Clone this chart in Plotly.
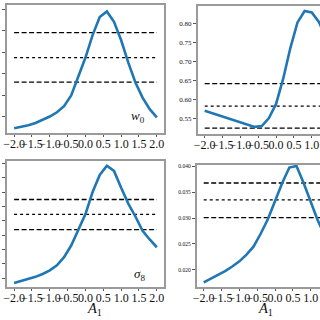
import plotly.graph_objects as go

# ---- data ----
A1 = [-2.0, -1.8, -1.6, -1.4, -1.2, -1.0, -0.8, -0.6, -0.4, -0.2, 0.0,
      0.2, 0.4, 0.6, 0.8, 1.0, 1.2, 1.4, 1.6, 1.8, 2.0]

w0_err = [0.074, 0.077, 0.081, 0.086, 0.093, 0.101, 0.111, 0.125, 0.150, 0.195, 0.238,
          0.290, 0.332, 0.345, 0.321, 0.278, 0.226, 0.180, 0.145, 0.118, 0.099]
w0_refs = [0.296, 0.2376, 0.181]   # dashed, dotted, dashed

tr_err = [0.571, 0.565, 0.559, 0.552, 0.545, 0.539, 0.533, 0.529, 0.531, 0.552, 0.589,
          0.655, 0.735, 0.802, 0.832, 0.828, 0.803, 0.765, 0.725, 0.692, 0.665]
tr_refs = [0.642, 0.5835, 0.526]

s8_err = [0.0167, 0.0180, 0.0194, 0.0210, 0.0230, 0.0255, 0.0290, 0.0347, 0.0428, 0.0532, 0.0647,
          0.0800, 0.0919, 0.0983, 0.0947, 0.0830, 0.0720, 0.0630, 0.0530, 0.0470, 0.0416]
s8_refs = [0.0748, 0.0645, 0.0539]

br_err = [0.0175, 0.0182, 0.0189, 0.0197, 0.0206, 0.0216, 0.0229, 0.0245, 0.0270, 0.0298, 0.0333,
          0.0368, 0.0398, 0.0401, 0.0368, 0.0332, 0.0295, 0.0265, 0.0240, 0.0220, 0.0205]
br_refs = [0.0368, 0.03351, 0.0301]

x_ticks = [-2.0, -1.5, -1.0, -0.5, 0.0, 0.5, 1.0, 1.5, 2.0]
tl_yticks = [0.10, 0.15, 0.20, 0.25, 0.30, 0.35]
tr_yticks = [0.55, 0.60, 0.65, 0.70, 0.75, 0.80]
bl_yticks = [0.02, 0.03, 0.04, 0.05, 0.06, 0.07, 0.08, 0.09, 0.10]
br_yticks = [0.020, 0.025, 0.030, 0.035, 0.040]

W = H = 320
BLUE = "#1f77b4"
FRAME = "#9a9a9a"
FONT = "Liberation Serif"

fig = go.Figure()

panels = [
    ("x", "y", w0_err, w0_refs),
    ("x2", "y2", tr_err, tr_refs),
    ("x3", "y3", s8_err, s8_refs),
    ("x4", "y4", br_err, br_refs),
]
for xa, ya, vals, refs in panels:
    for i, r in enumerate(refs):
        fig.add_trace(go.Scatter(
            x=[A1[0], A1[-1]], y=[r, r], mode="lines",
            line=dict(color="black", width=1.3, dash="dot" if i == 1 else "5px,2.5px"),
            xaxis=xa, yaxis=ya, showlegend=False, hoverinfo="skip"))
    fig.add_trace(go.Scatter(
        x=A1, y=vals, mode="lines", line=dict(color=BLUE, width=2.6),
        xaxis=xa, yaxis=ya, showlegend=False))


def px_x(p):
    return p / W


def px_y(p):
    return 1 - p / H


common_x = dict(tickmode="array", tickvals=x_ticks, tickformat=".1f", tickangle=0,
                ticks="outside", ticklen=2, tickcolor="#555", showline=True,
                linecolor=FRAME, linewidth=1.5, showgrid=False, zeroline=False,
                ticklabelstandoff=-3,
                tickfont=dict(family=FONT, size=12, color="#111"))
common_y = dict(ticks="outside", ticklen=3, tickcolor="#555", showline=True,
                linecolor=FRAME, linewidth=1.5, showgrid=False, zeroline=False,
                tickangle=0, tickfont=dict(family=FONT, size=7, color="#111"))

fig.update_layout(
    width=W, height=H, margin=dict(l=0, r=0, t=0, b=0),
    paper_bgcolor="white", plot_bgcolor="white", showlegend=False,
    xaxis=dict(domain=[px_x(3), px_x(162)], range=[-2.2, 2.2], mirror=True,
               anchor="y", **common_x),
    yaxis=dict(domain=[px_y(132), px_y(3)], range=[0.0624, 0.360], mirror=True,
               tickvals=tl_yticks, showticklabels=False, anchor="x", **common_y),
    xaxis2=dict(domain=[px_x(196), 1.0], range=[-2.2, 1.231], mirror=True,
                anchor="y2", **common_x),
    yaxis2=dict(domain=[px_y(133), px_y(4)], range=[0.510, 0.845],
                tickvals=tr_yticks, tickformat=".2f", anchor="x2", **common_y),
    xaxis3=dict(domain=[px_x(3), px_x(162)], range=[-2.2, 2.2], mirror=True,
                anchor="y3", **common_x),
    yaxis3=dict(domain=[px_y(287), px_y(160)], range=[0.0138, 0.1016], mirror=True,
                tickvals=bl_yticks, showticklabels=False, anchor="x3", **common_y),
    xaxis4=dict(domain=[px_x(195), 1.0], range=[-2.2, 1.259], mirror=True,
                anchor="y4", **common_x),
    yaxis4=dict(domain=[px_y(287), px_y(164)], range=[0.01658, 0.0403],
                tickvals=br_yticks, tickformat=".3f", anchor="x4", **common_y),
)
fig.update_yaxes(tickfont=dict(size=5.5), selector=dict(anchor="x4"))

fig.add_annotation(text="<i>w</i><sub>0</sub>", xref="x domain", yref="y domain",
                   x=0.89, y=0.045, showarrow=False,
                   font=dict(family=FONT, size=13, color="#111"))
fig.add_annotation(text="<i>σ</i><sub>8</sub>", xref="x3 domain", yref="y3 domain",
                   x=0.89, y=0.02, showarrow=False,
                   font=dict(family=FONT, size=13, color="#111"))
for xc in [px_x(82.5), px_x(274.5)]:
    fig.add_annotation(text="<i>A</i><sub>1</sub>", xref="paper", yref="paper",
                       x=xc, y=px_y(309), showarrow=False, yanchor="middle",
                       font=dict(family=FONT, size=14.5, color="#111"))

fig.write_html("out.html", config={"displayModeBar": False},
               post_script="document.body.style.margin='0';document.body.style.overflow='hidden';")
